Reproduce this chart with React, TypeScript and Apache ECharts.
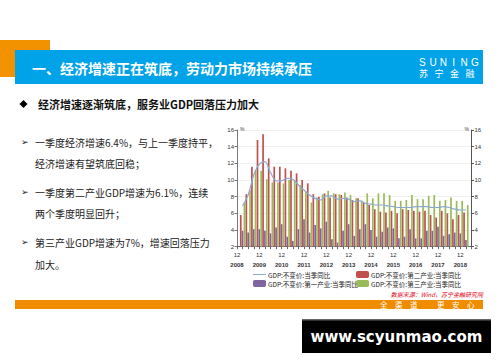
import React, { useEffect, useRef } from "react";
import * as echarts from "echarts";

// Quarter-end categories (Dec 2008 .. Jun 2019); labels shown on December ticks
const categories = [
  "2008-12",
  "2009-03", "2009-06", "2009-09", "2009-12",
  "2010-03", "2010-06", "2010-09", "2010-12",
  "2011-03", "2011-06", "2011-09", "2011-12",
  "2012-03", "2012-06", "2012-09", "2012-12",
  "2013-03", "2013-06", "2013-09", "2013-12",
  "2014-03", "2014-06", "2014-09", "2014-12",
  "2015-03", "2015-06", "2015-09", "2015-12",
  "2016-03", "2016-06", "2016-09", "2016-12",
  "2017-03", "2017-06", "2017-09", "2017-12",
  "2018-03", "2018-06", "2018-09", "2018-12",
  "2019-03", "2019-06",
];

// GDP:不变价:当季同比 (%)
const gdp = [
  null,
  6.9, 8.2, 10.6, 11.9,
  12.2, 10.9, 9.9, 9.9,
  10.2, 10.1, 9.4, 8.8,
  8.2, 7.8, 7.6, 8.1,
  8.1, 7.7, 7.8, 7.7,
  7.4, 7.5, 7.2, 7.1,
  7.0, 7.0, 6.9, 6.8,
  6.7, 6.7, 6.7, 6.8,
  6.8, 6.8, 6.7, 6.7,
  6.8, 6.7, 6.5, 6.4,
  6.4, null,
];

// GDP:不变价:第二产业:当季同比 (%)
const secondary = [
  null,
  5.8, 8.3, 11.6, 14.8,
  15.5, 12.6, 11.6, 11.6,
  11.4, 11.1, 10.8, 10.0,
  9.6, 8.3, 8.0, 8.4,
  7.9, 8.3, 8.2, 7.9,
  7.6, 7.8, 7.3, 7.0,
  6.5, 6.2, 6.1, 6.3,
  6.0, 6.5, 6.4, 6.3,
  6.2, 6.3, 5.8, 5.5,
  6.3, 6.0, 5.3, 5.8,
  6.1, null,
];

// GDP:不变价:第一产业:当季同比 (%)
const primary = [
  null,
  3.9, 3.7, 4.1, 4.1,
  3.9, 3.6, 4.3, 4.7,
  3.2, 2.7, 4.1, 5.3,
  3.7, 4.6, 4.2, 5.0,
  2.9, 2.5, 3.9, 4.7,
  3.3, 4.1, 4.7, 4.0,
  3.2, 3.8, 4.3, 4.2,
  3.0, 3.2, 4.1, 3.0,
  3.0, 3.9, 3.9, 4.4,
  3.3, 3.5, 3.7, 3.6,
  2.8, null,
];

// GDP:不变价:第三产业:当季同比 (%)
const tertiary = [
  null,
  7.2, 8.8, 11.2, 11.1,
  10.1, 9.7, 9.7, 9.6,
  10.0, 10.0, 9.4, 8.6,
  7.3, 7.9, 8.3, 8.7,
  8.4, 8.3, 8.5, 8.2,
  7.8, 7.5, 8.4, 7.8,
  8.4, 8.4, 8.2, 7.5,
  7.5, 7.6, 8.2, 7.7,
  7.7, 8.1, 8.2, 7.5,
  7.6, 7.9, 7.5, 7.5,
  7.0, null,
];

const yTicks = { min: 2, max: 16, interval: 2 };

const seriesNames = {
  gdp: "GDP:不变价:当季同比",
  secondary: "GDP:不变价:第二产业:当季同比",
  primary: "GDP:不变价:第一产业:当季同比",
  tertiary: "GDP:不变价:第三产业:当季同比",
};

const titleText = "一、经济增速正在筑底，劳动力市场持续承压";
const subtitleText = "经济增速逐渐筑底，服务业GDP回落压力加大";
const bulletLines = [
  { arrow: true, text: "一季度经济增速6.4%，与上一季度持平，" },
  { arrow: false, text: "经济增速有望筑底回稳；" },
  { arrow: true, text: "一季度第二产业GDP增速为6.1%，连续" },
  { arrow: false, text: "两个季度明显回升；" },
  { arrow: true, text: "第三产业GDP增速为7%，增速回落压力" },
  { arrow: false, text: "加大。" },
];
const bulletY = [142, 163.5, 192, 213.5, 242, 264];
const logoLetters = ["S", "U", "N", "I", "N", "G"];
const logoCn = ["苏", "宁", "金", "融"];
const sloganChars = ["全", "渠", "道", "更", "安", "心"];
const sloganX = [380, 395, 410, 437, 452, 467];
const sourceText = "数据来源：Wind，苏宁金融研究院";
const watermark = "www.scyunmao.com";

const CJK = '"Noto Sans CJK SC", "Liberation Sans", sans-serif';

function txt(x: number, y: number, text: string, font: string, fill: string, align = "left") {
  return {
    type: "text",
    x,
    y,
    z: 10,
    style: {
      text,
      font,
      fill,
      align,
      textAlign: align,
      verticalAlign: "middle",
      textVerticalAlign: "middle",
    },
  };
}

function buildGraphics() {
  const g: any[] = [];
  // header
  g.push({ type: "rect", z: 1, shape: { x: 0, y: 40, width: 50, height: 37 }, style: { fill: "#f39200" } });
  g.push({ type: "rect", z: 2, shape: { x: 15, y: 50, width: 468, height: 34 }, style: { fill: "#00a2e8" } });
  g.push(txt(32, 68, titleText, `bold 14px ${CJK}`, "#ffffff"));
  logoLetters.forEach((c, i) => {
    g.push(txt(419 + i * 10.4 + (c === "I" ? 2 : 0), 62, c, `10px "Liberation Sans", sans-serif`, "#ffffff"));
  });
  logoCn.forEach((c, i) => {
    g.push(txt(419 + i * 15.5, 73, c, `9px ${CJK}`, "#ffffff"));
  });
  // subtitle
  g.push({
    type: "polygon",
    z: 10,
    shape: { points: [[23.5, 100], [27.5, 104], [23.5, 108], [19.5, 104]] },
    style: { fill: "#000" },
  });
  g.push(txt(38, 104, subtitleText, `bold 11px ${CJK}`, "#111111"));
  // bullets
  bulletLines.forEach((b, i) => {
    if (b.arrow) g.push(txt(21, bulletY[i], "➢", `9px "DejaVu Sans", sans-serif`, "#222222"));
    g.push(txt(35, bulletY[i], b.text, `10px ${CJK}`, "#222222"));
  });
  // percent marks
  g.push(txt(240, 129, "%", `5px "Liberation Sans", sans-serif`, "#444"));
  g.push(txt(464.5, 129, "%", `5px "Liberation Sans", sans-serif`, "#444"));
  // source
  g.push({
    type: "text",
    x: 483,
    y: 294.5,
    z: 10,
    style: {
      text: sourceText,
      font: `italic 6px ${CJK}`,
      fill: "#e60012",
      align: "right",
      textAlign: "right",
      verticalAlign: "middle",
      textVerticalAlign: "middle",
    },
  });
  // footer bar
  g.push({ type: "rect", z: 2, shape: { x: 15, y: 300, width: 468, height: 9 }, style: { fill: "#f08c00" } });
  sloganChars.forEach((c, i) => g.push(txt(sloganX[i], 304.7, c, `7.5px ${CJK}`, "#ffffff")));
  // watermark box
  g.push({ type: "rect", z: 2, shape: { x: 302, y: 319, width: 189, height: 34 }, style: { fill: "#000000" } });
  g.push({ type: "rect", z: 3, shape: { x: 302, y: 319, width: 189, height: 1.5 }, style: { fill: "#666666" } });
  g.push(txt(396.5, 337, watermark, `bold 15px "DejaVu Sans", sans-serif`, "#ffffff", "center"));
  return g;
}

function buildOption() {
  const axisFont = { fontSize: 6, color: "#333", fontFamily: '"Liberation Sans", sans-serif' };
  const legendBase = {
    top: 271,
    orient: "vertical",
    itemWidth: 13,
    itemHeight: 7,
    itemGap: 2,
    padding: 0,
    textStyle: { fontSize: 6.5, color: "#222", lineHeight: 7, padding: [0, 0, 0, -3] },
  };
  return {
    animation: false,
    backgroundColor: "#ffffff",
    textStyle: { fontFamily: CJK },
    grid: { left: 237, right: 28.5, top: 130, bottom: 115.3, containLabel: false },
    legend: [
      {
        ...legendBase,
        left: 253,
        data: [
          { name: seriesNames.gdp, icon: "path://M0,0 L26,0 L26,2 L0,2 Z" },
          { name: seriesNames.primary },
        ],
      },
      {
        ...legendBase,
        left: 356,
        data: [seriesNames.secondary, seriesNames.tertiary],
      },
    ],
    xAxis: {
      type: "category",
      data: categories,
      boundaryGap: false,
      axisLine: { lineStyle: { color: "#666", width: 1 } },
      axisTick: { interval: 0, length: 2.5, lineStyle: { color: "#666" } },
      axisLabel: {
        interval: (_i: number, v: string) => v.endsWith("-12"),
        margin: 3,
        formatter: (v: string) => `{m|${v.slice(5)}}\n{y|${v.slice(0, 4)}}`,
        rich: {
          m: { ...axisFont, lineHeight: 10 },
          y: { ...axisFont, fontWeight: "bold", lineHeight: 10 },
        },
      },
      splitLine: { show: false },
    },
    yAxis: [
      {
        type: "value",
        position: "left",
        ...yTicks,
        axisLine: { show: true, lineStyle: { color: "#777" } },
        axisTick: { show: true, length: 2.5, lineStyle: { color: "#777" } },
        axisLabel: { ...axisFont, margin: 3 },
        splitLine: { show: true, lineStyle: { color: "#ececec", width: 0.8 } },
      },
      {
        type: "value",
        position: "right",
        ...yTicks,
        axisLine: { show: true, lineStyle: { color: "#555" } },
        axisTick: { show: true, length: 2.5, lineStyle: { color: "#555" } },
        axisLabel: { ...axisFont, margin: 3 },
        splitLine: { show: false },
      },
    ],
    series: [
      {
        name: seriesNames.gdp,
        type: "line",
        data: gdp,
        symbol: "none",
        smooth: 0.3,
        z: 5,
        lineStyle: { color: "#8caad0", width: 1.2 },
        itemStyle: { color: "#8caad0" },
      },
      {
        name: seriesNames.secondary,
        type: "bar",
        data: secondary,
        barWidth: 1.7,
        barGap: "8%",
        itemStyle: { color: "#c0504d" },
      },
      {
        name: seriesNames.primary,
        type: "bar",
        data: primary,
        barWidth: 1.7,
        barGap: "8%",
        itemStyle: { color: "#8064a2" },
      },
      {
        name: seriesNames.tertiary,
        type: "bar",
        data: tertiary,
        barWidth: 1.7,
        barGap: "8%",
        itemStyle: { color: "#9bbb59" },
      },
    ],
    graphic: { elements: buildGraphics() },
  };
}

export default function App() {
  const ref = useRef<HTMLDivElement>(null);
  useEffect(() => {
    document.body.style.margin = "0";
    const chart = echarts.init(ref.current!, null, { renderer: "svg" });
    chart.setOption(buildOption() as any);
    return () => chart.dispose();
  }, []);
  return (
    <div
      ref={ref}
      style={{ position: "absolute", left: 0, top: 0, width: 500, height: 362, background: "#fff" }}
    />
  );
}
